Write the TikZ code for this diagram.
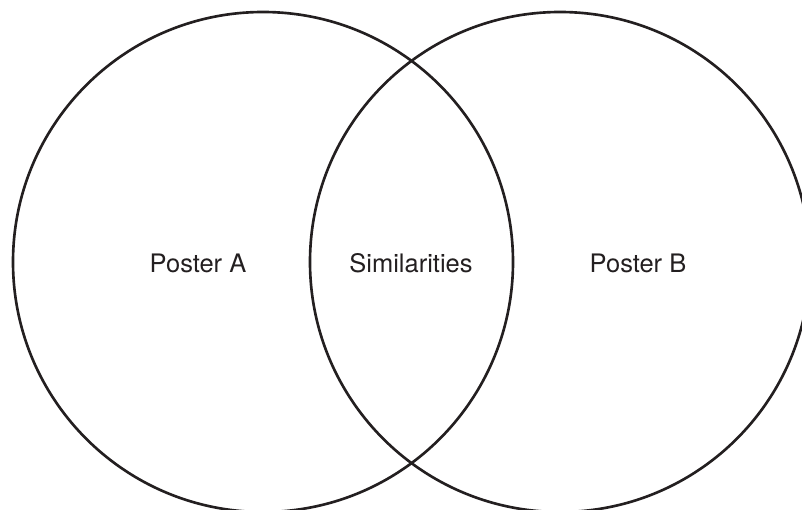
\documentclass[tikz,border=0pt]{standalone}
\usepackage{fontspec}
\setmainfont{TeX Gyre Heros}
\usepackage{tikz}
\usetikzlibrary{positioning}
\definecolor{inkline}{RGB}{35,31,32}
\tikzset{
  vennset/.style={draw=inkline,line width=1.5pt},
  vennlabel/.style={font=\fontsize{14.5}{17}\selectfont,text=inkline}
}

\begin{document}
\begin{tikzpicture}[x=0.02cm,y=-0.02cm]
    \useasboundingbox (0,0) rectangle (802,510);
    \clip (0,0) rectangle (802,510);
    % the two sets
    \draw[vennset] (263,262) circle[radius=250];
    \draw[vennset] (560,262) circle[radius=250];
    % labels
    \node[vennlabel] (posterA) at (198,263) {Poster A};
    \node[vennlabel] (similar) at (411,263) {Similarities};
    \node[vennlabel] (posterB) at (638,263) {Poster B};
  \end{tikzpicture}
\end{document}
